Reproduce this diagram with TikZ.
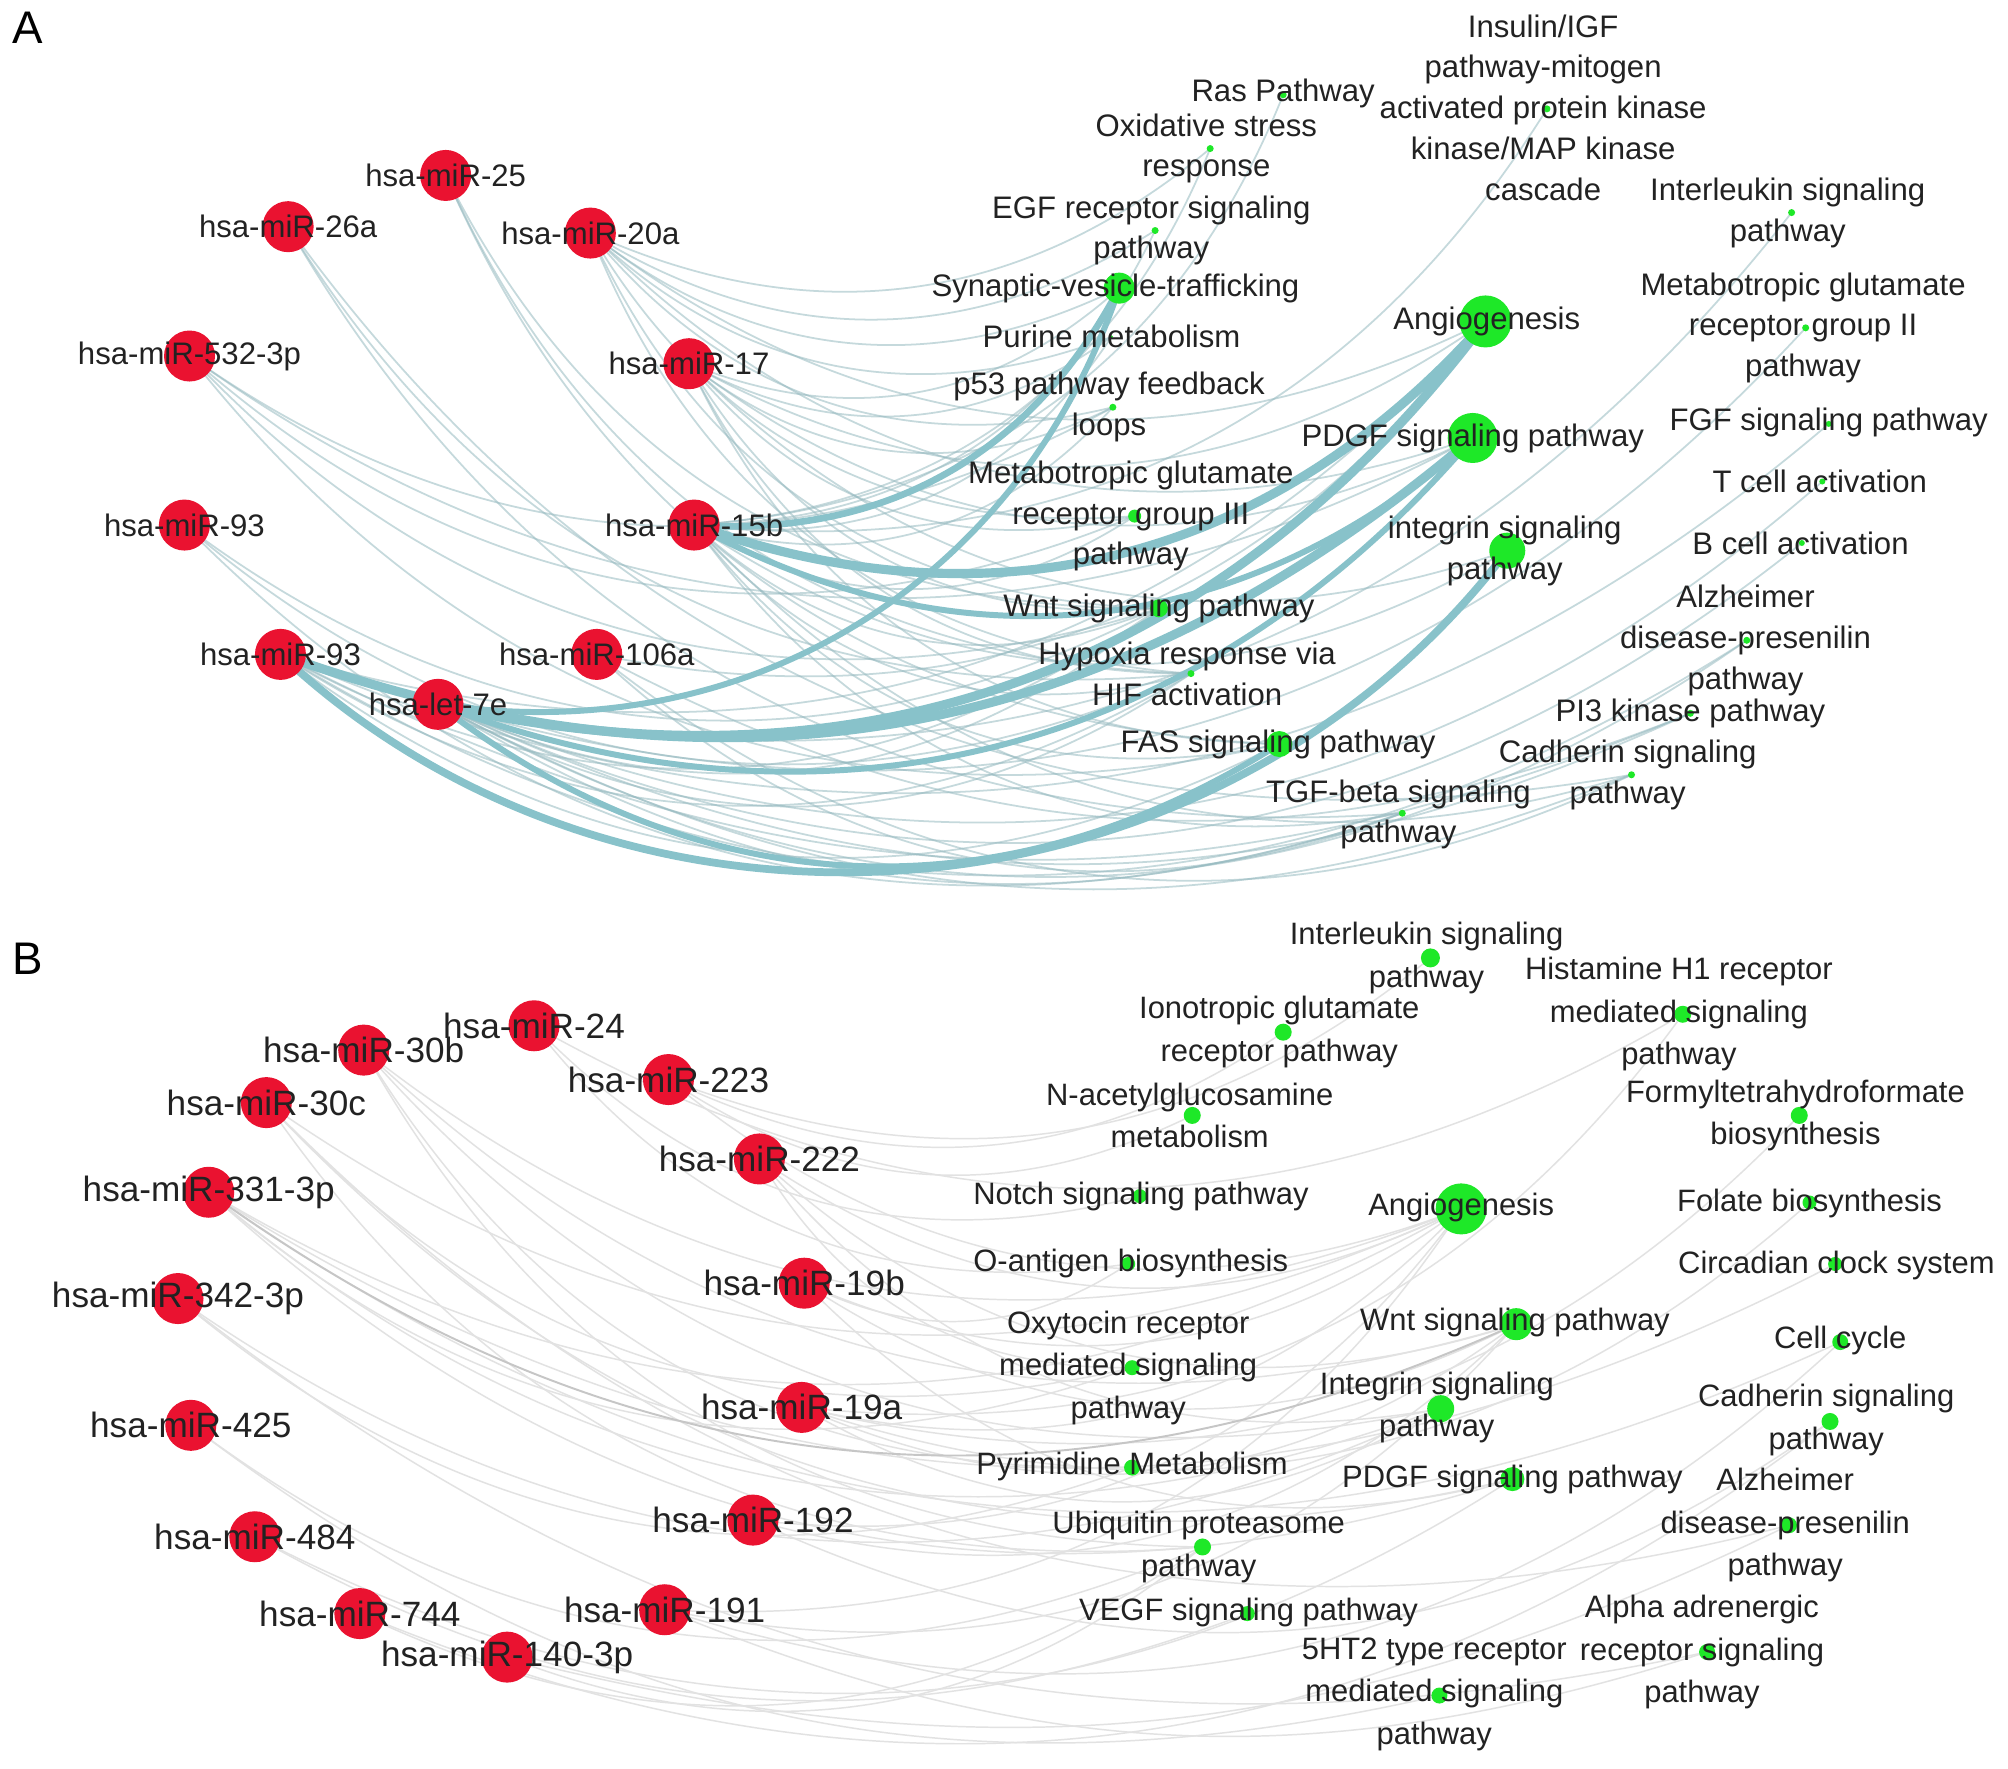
\documentclass[tikz,border=0pt]{standalone}
\usepackage{fontspec}
\setmainfont{Liberation Sans}
\usetikzlibrary{backgrounds}
\definecolor{mired}{RGB}{234,18,48}
\definecolor{pgreen}{RGB}{30,232,40}
\definecolor{txt}{RGB}{34,34,34}
\definecolor{tealthick}{RGB}{136,194,202}
\definecolor{tealthin}{RGB}{150,186,192}
\definecolor{graythin}{RGB}{226,226,226}
\tikzset{
  mirna/.style={circle, fill=mired, inner sep=0pt, minimum size=0.51cm},
  gdot/.style={circle, fill=pgreen, inner sep=0pt, minimum size=#1},
  lblA/.style={font=\fontsize{8.85}{11.6}\selectfont, text=txt, align=center, inner sep=0pt},
  lblBr/.style={font=\fontsize{10}{12}\selectfont, text=txt, align=center, inner sep=0pt},
  lblBg/.style={font=\fontsize{8.8}{12.1}\selectfont, text=txt, align=center, inner sep=0pt},
  panel/.style={font=\fontsize{13}{15}\selectfont, text=black, inner sep=0pt},
  ethin/.style={draw=tealthin, line width=0.5pt, opacity=0.55},
  emed/.style={draw=tealthick, line width=1.7pt},
  ethick/.style={draw=tealthick, line width=2.6pt},
  ebthin/.style={draw=graythin, line width=0.42pt}
}
\begin{document}
\begin{tikzpicture}[x=0.012806cm, y=-0.012806cm]
\useasboundingbox (0,0) rectangle (1568,1381);

% ---------------- Panel A: nodes ----------------
\node[mirna] (a25)  at (348,137) {};
\node[mirna] (a26a) at (225,177) {};
\node[mirna] (a20a) at (461,182) {};
\node[mirna] (a532) at (148,278) {};
\node[mirna] (a17)  at (538,284) {};
\node[mirna] (a93u) at (144,410) {};
\node[mirna] (a15b) at (542,410) {};
\node[mirna] (a93l) at (219,511) {};
\node[mirna] (a106a) at (466,511) {};
\node[mirna] (a7e)  at (342,550) {};

\node[gdot=0.07cm] (ras)   at (1002,74) {};
\node[gdot=0.07cm] (oxi)   at (945,116) {};
\node[gdot=0.07cm] (ins)   at (1208,85) {};
\node[gdot=0.07cm] (egf)   at (902,180) {};
\node[gdot=0.07cm] (ilA)   at (1399,166) {};
\node[gdot=0.31cm] (syn)   at (874,225) {};
\node[gdot=0.52cm] (angA)  at (1160,251) {};
\node[gdot=0.07cm] (met2)  at (1410,256) {};
\node[gdot=0.03cm] (pur)   at (868,263) {};
\node[gdot=0.07cm] (p53)   at (869,318) {};
\node[gdot=0.50cm] (pdgfA) at (1150,342) {};
\node[gdot=0.06cm] (fgf)   at (1428,331) {};
\node[gdot=0.13cm] (met3)  at (886,403) {};
\node[gdot=0.06cm] (tcell) at (1423,376) {};
\node[gdot=0.36cm] (intA)  at (1177,430) {};
\node[gdot=0.06cm] (bcell) at (1407,424) {};
\node[gdot=0.18cm] (wntA)  at (905,475) {};
\node[gdot=0.07cm] (alzA)  at (1364,500) {};
\node[gdot=0.07cm] (hyp)   at (930,526) {};
\node[gdot=0.07cm] (pi3)   at (1320,557) {};
\node[gdot=0.26cm] (fas)   at (999,581) {};
\node[gdot=0.07cm] (cadA)  at (1274,605) {};
\node[gdot=0.07cm] (tgf)   at (1095,635) {};

% ---------------- Panel B: nodes ----------------
\node[mirna] (b24)  at (417,801) {};
\node[mirna] (b30b) at (284,820) {};
\node[mirna] (b223) at (522,843) {};
\node[mirna] (b30c) at (208,861) {};
\node[mirna] (b222) at (593,905) {};
\node[mirna] (b331) at (163,931) {};
\node[mirna] (b19b) at (628,1002) {};
\node[mirna] (b342) at (139,1014) {};
\node[mirna] (b19a) at (626,1099) {};
\node[mirna] (b425) at (149,1113) {};
\node[mirna] (b192) at (588,1187) {};
\node[mirna] (b484) at (199,1200) {};
\node[mirna] (b191) at (519,1257) {};
\node[mirna] (b744) at (281,1260) {};
\node[mirna] (b140) at (396,1294) {};

\node[gdot=0.19cm] (ilB)   at (1117,748) {};
\node[gdot=0.17cm] (his)   at (1314,792) {};
\node[gdot=0.17cm] (ion)   at (1002,806) {};
\node[gdot=0.17cm] (nac)   at (931,871) {};
\node[gdot=0.17cm] (for)   at (1405,871) {};
\node[gdot=0.14cm] (notch) at (890,934) {};
\node[gdot=0.51cm] (angB)  at (1141,944) {};
\node[gdot=0.14cm] (fol)   at (1413,939) {};
\node[gdot=0.14cm] (oant)  at (881,987) {};
\node[gdot=0.14cm] (circ)  at (1433,987) {};
\node[gdot=0.32cm] (wntB)  at (1184,1034) {};
\node[gdot=0.15cm] (oxy)   at (884,1068) {};
\node[gdot=0.16cm] (cc)    at (1437,1048) {};
\node[gdot=0.27cm] (intB)  at (1125,1100) {};
\node[gdot=0.17cm] (cadB)  at (1429,1110) {};
\node[gdot=0.16cm] (pyr)   at (884,1146) {};
\node[gdot=0.24cm] (pdgfB) at (1181,1155) {};
\node[gdot=0.16cm] (alzB)  at (1397,1191) {};
\node[gdot=0.17cm] (ubi)   at (939,1208) {};
\node[gdot=0.15cm] (vegf)  at (974,1260) {};
\node[gdot=0.16cm] (alpha) at (1333,1290) {};
\node[gdot=0.16cm] (ht2)   at (1124,1324) {};

% ---------------- Edges (behind nodes) ----------------
\begin{scope}[on background layer]
\fill[white] (0,0) rectangle (1568,1381);
% panel A thin edges
\foreach \s/\t in {a25/wntA, a25/fas, a25/hyp,
  a26a/tgf, a26a/cadA, a26a/hyp,
  a20a/syn, a20a/pur, a20a/p53, a20a/angA, a20a/pdgfA, a20a/met3, a20a/wntA, a20a/hyp, a20a/egf, a20a/oxi,
  a532/p53, a532/met3, a532/wntA, a532/fas, a532/pdgfA,
  a17/syn, a17/angA, a17/pdgfA, a17/met3, a17/wntA, a17/hyp, a17/fas, a17/intA, a17/pur, a17/p53,
  a93u/wntA, a93u/tgf, a93u/hyp,
  a15b/intA, a15b/wntA, a15b/hyp, a15b/fas, a15b/tgf, a15b/cadA, a15b/met3, a15b/p53, a15b/pur,
  a15b/ins, a15b/ras, a15b/egf, a15b/oxi,
  a93l/angA, a93l/fas, a93l/wntA, a93l/hyp, a93l/alzA, a93l/fgf,
  a106a/angA, a106a/tgf, a106a/cadA,
  a7e/wntA, a7e/hyp, a7e/alzA, a7e/bcell, a7e/tcell, a7e/met2, a7e/ilA}
  \draw[ethin] (\s.center) to[bend right=32] (\t.center);
\foreach \s/\t in {a7e/tgf, a7e/cadA, a7e/pi3, a106a/pi3, a93l/pi3}
  \draw[ethin] (\s.center) to[bend right=25] (\t.center);
% panel A medium edges
\foreach \s/\t in {a7e/pdgfA, a7e/fas, a15b/pdgfA}
  \draw[emed] (\s.center) to[bend right=35] (\t.center);
\draw[emed] (a7e.center) to[bend right=40] (syn.center);
\draw[line width=1.9pt, draw=tealthick] (a15b.center) to[bend right=33] (syn.center);
% panel A thick edges
\draw[ethick] (a15b.center) to[bend right=34] (angA.center);
\draw[ethick] (a7e.center) to[bend right=33] (angA.center);
\draw[ethick] (a93l.center) to[bend right=30] (pdgfA.center);
\draw[emed, line width=2.2pt] (a93l.center) to[bend right=48] (intA.center);

% panel B edges
\foreach \s/\t in {b24/notch, b24/oant, b24/his,
  b30b/angB, b30b/intB, b30b/pyr, b30b/ubi, b30b/wntB,
  b223/nac, b223/ion, b223/ilB, b223/angB,
  b30c/angB, b30c/oxy, b30c/pdgfB, b30c/alzB, b30c/ubi,
  b222/angB, b222/wntB, b222/oxy, b222/intB,
  b331/angB, b331/intB, b331/pdgfB, b331/cc, b331/circ, b331/oxy,
  b19b/angB, b19b/wntB, b19b/oant, b19b/pdgfB,
  b342/pyr, b342/intB,
  b19a/angB, b19a/wntB, b19a/for, b19a/fol, b19a/his, b19a/intB,
  b425/ubi,
  b192/angB, b192/wntB, b192/cadB,
  b484/pdgfB,
  b191/angB, b191/cc, b191/wntB,
  b744/ubi, b744/cadB,
  b140/ubi}
  \draw[ebthin] (\s.center) to[bend right=30] (\t.center);
\foreach \s/\t in {b342/alpha, b425/ht2, b484/vegf}
  \draw[ebthin] (\s.center) to[bend right=25] (\t.center);
\foreach \s/\t in {b191/alpha, b140/alzB}
  \draw[ebthin] (\s.center) to[bend right=20] (\t.center);
\draw[draw=gray!45, line width=0.55pt] (b331.center) to[bend right=30] (wntB.center);
\end{scope}

% ---------------- Labels ----------------
\node[panel] (pA) at (22,22) {A};
\node[panel] (pB) at (22,749) {B};

\node[lblA] at (a25)  {hsa-miR-25};
\node[lblA] at (a26a) {hsa-miR-26a};
\node[lblA] at (a20a) {hsa-miR-20a};
\node[lblA] at (a532) {hsa-miR-532-3p};
\node[lblA] at (a17)  {hsa-miR-17};
\node[lblA] at (a93u) {hsa-miR-93};
\node[lblA] at (a15b) {hsa-miR-15b};
\node[lblA] at (a93l) {hsa-miR-93};
\node[lblA] at (a106a) {hsa-miR-106a};
\node[lblA] at (a7e)  {hsa-let-7e};

\node[lblA] at (1002,73) {Ras Pathway};
\node[lblA] at (942,116) {Oxidative stress\\response};
\node[lblA] at (1205,84) {Insulin/IGF\\pathway-mitogen\\activated protein kinase\\kinase/MAP kinase\\cascade};
\node[lblA] at (899,180) {EGF receptor signaling\\pathway};
\node[lblA] at (1396,166) {Interleukin signaling\\pathway};
\node[lblA] at (871,225) {Synaptic-vesicle-trafficking};
\node[lblA] at (1161,251) {Angiogenesis};
\node[lblA] at (1408,256) {Metabotropic glutamate\\receptor group II\\pathway};
\node[lblA] at (868,263) {Purine metabolism};
\node[lblA] at (866,318) {p53 pathway feedback\\loops};
\node[lblA] at (1150,342) {PDGF signaling pathway};
\node[lblA] at (1428,330) {FGF signaling pathway};
\node[lblA] at (883,403) {Metabotropic glutamate\\receptor group III\\pathway};
\node[lblA] at (1421,376) {T cell activation};
\node[lblA] at (1175,430) {integrin signaling\\pathway};
\node[lblA] at (1406,424) {B cell activation};
\node[lblA] at (905,475) {Wnt signaling pathway};
\node[lblA] at (1363,500) {Alzheimer\\disease-presenilin\\pathway};
\node[lblA] at (927,526) {Hypoxia response via\\HIF activation};
\node[lblA] at (1320,557) {PI3 kinase pathway};
\node[lblA] at (998,581) {FAS signaling pathway};
\node[lblA] at (1271,605) {Cadherin signaling\\pathway};
\node[lblA] at (1092,636) {TGF-beta signaling\\pathway};

\node[lblBr] at (b24)  {hsa-miR-24};
\node[lblBr] at (b30b) {hsa-miR-30b};
\node[lblBr] at (b223) {hsa-miR-223};
\node[lblBr] at (b30c) {hsa-miR-30c};
\node[lblBr] at (b222) {hsa-miR-222};
\node[lblBr] at (b331) {hsa-miR-331-3p};
\node[lblBr] at (b19b) {hsa-miR-19b};
\node[lblBr] at (b342) {hsa-miR-342-3p};
\node[lblBr] at (b19a) {hsa-miR-19a};
\node[lblBr] at (b425) {hsa-miR-425};
\node[lblBr] at (b192) {hsa-miR-192};
\node[lblBr] at (b484) {hsa-miR-484};
\node[lblBr] at (b191) {hsa-miR-191};
\node[lblBr] at (b744) {hsa-miR-744};
\node[lblBr] at (b140) {hsa-miR-140-3p};

\node[lblBg] at (1114,748) {Interleukin signaling\\pathway};
\node[lblBg] at (1311,792) {Histamine H1 receptor\\mediated signaling\\pathway};
\node[lblBg] at (999,806) {Ionotropic glutamate\\receptor pathway};
\node[lblBg] at (929,871) {N-acetylglucosamine\\metabolism};
\node[lblBg] at (1402,871) {Formyltetrahydroformate\\biosynthesis};
\node[lblBg] at (891,934) {Notch signaling pathway};
\node[lblBg] at (1141,943) {Angiogenesis};
\node[lblBg] at (1413,940) {Folate biosynthesis};
\node[lblBg] at (883,987) {O-antigen biosynthesis};
\node[lblBg] at (1434,988) {Circadian clock system};
\node[lblBg] at (1183,1033) {Wnt signaling pathway};
\node[lblBg] at (881,1068) {Oxytocin receptor\\mediated signaling\\pathway};
\node[lblBg] at (1437,1047) {Cell cycle};
\node[lblBg] at (1122,1099) {Integrin signaling\\pathway};
\node[lblBg] at (1426,1109) {Cadherin signaling\\pathway};
\node[lblBg] at (884,1145) {Pyrimidine Metabolism};
\node[lblBg] at (1181,1155) {PDGF signaling pathway};
\node[lblBg] at (1394,1191) {Alzheimer\\disease-presenilin\\pathway};
\node[lblBg] at (936,1208) {Ubiquitin proteasome\\pathway};
\node[lblBg] at (975,1259) {VEGF signaling pathway};
\node[lblBg] at (1329,1290) {Alpha adrenergic\\receptor signaling\\pathway};
\node[lblBg] at (1120,1323) {5HT2 type receptor\\mediated signaling\\pathway};
\end{tikzpicture}
\end{document}
